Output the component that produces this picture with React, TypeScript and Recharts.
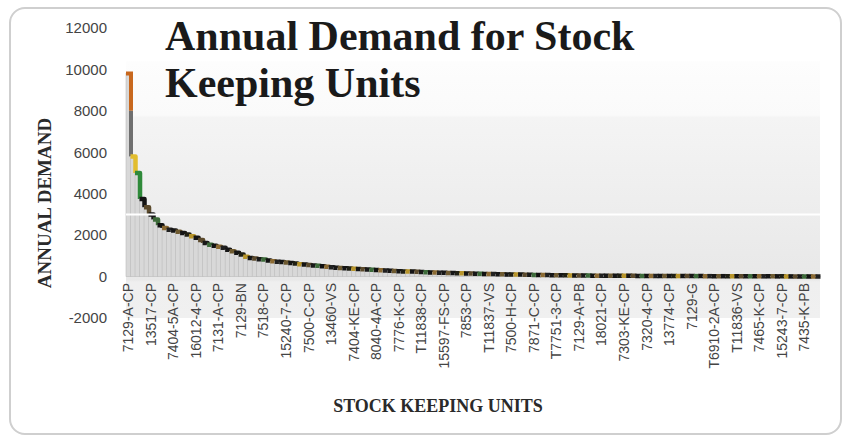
import { BarChart, Bar, XAxis, YAxis, ReferenceArea, ReferenceLine } from 'recharts'

// SKUs sorted by annual demand, one value per bar
const demand = [
  9800, 5800, 5000, 3750, 3350, 3000, 2750, 2480, 2350, 2260,
  2220, 2160, 2100, 2030, 1950, 1870, 1760, 1620, 1540, 1490,
  1440, 1390, 1300, 1220, 1150, 1060, 960, 900, 870, 840,
  820, 780, 740, 720, 700, 680, 660, 630, 600, 580,
  560, 540, 520, 500, 470, 450, 430, 410, 400, 390,
  375, 360, 350, 340, 330, 320, 300, 290, 280, 270,
  260, 250, 245, 240, 230, 220, 210, 200, 195, 190,
  180, 175, 170, 160, 155, 150, 145, 140, 135, 130,
  125, 120, 115, 110, 105, 100, 98, 95, 90, 85,
  80, 78, 75, 70, 65, 62, 60, 58, 55, 52,
  50, 48, 46, 45, 44, 42, 40, 40, 38, 37,
  36, 35, 34, 33, 32, 31, 30, 30, 29, 28,
  27, 26, 25, 25, 24, 23, 22, 22, 21, 20,
  20, 19, 18, 18, 17, 16, 16, 15, 14, 14,
  13, 12, 12, 11, 10, 10, 9, 8, 8, 7,
  6, 5, 4, 3,
]

// every fifth SKU gets a label on the axis
const skuTickLabels = [
  '7129-A-CP', '13517-CP', '7404-5A-CP', '16012-4-CP', '7131-A-CP', '7129-BN',
  '7518-CP', '15240-7-CP', '7500-C-CP', '13460-VS', '7404-KE-CP', '8040-4A-CP',
  '7776-K-CP', 'T11838-CP', '15597-FS-CP', '7853-CP', 'T11837-VS', '7500-H-CP',
  '7871-C-CP', 'T7751-3-CP', '7129-A-PB', '18021-CP', '7303-KE-CP', '7320-4-CP',
  '13774-CP', '7129-G', 'T6910-2A-CP', 'T11836-VS', '7465-K-CP', '15243-7-CP',
  '7435-K-PB',
]

const yTicks = [-2000, 0, 2000, 4000, 6000, 8000, 10000, 12000]

const data = demand.map((v, i) => ({
  sku: i % 5 === 0 ? skuTickLabels[i / 5] : `SKU-${i + 1}`,
  demand: v,
}))

const topColors = ['#151515', '#1f1f14', '#b8952a', '#141414', '#5b4a2c', '#181818', '#3d6b3a', '#111', '#8c6b33', '#202020', '#161616', '#6e5a30']

const DemandBar = (props: any) => {
  const { x, y, width, height, index } = props
  const value = demand[index]
  const next = index + 1 < demand.length ? demand[index + 1] : value
  const yNext = y + height * (1 - next / value)
  let edge: any
  if (index === 0) {
    const mid = y + (yNext - y) * 0.45
    edge = (
      <>
        <path d={`M${x},${y} H${x + width} V${mid}`} stroke="#c8681e" strokeWidth={4} fill="none" />
        <path d={`M${x + width},${mid} V${yNext}`} stroke="#6f6f6f" strokeWidth={4} fill="none" />
      </>
    )
  } else {
    const color = index === 1 ? '#e2bd2e' : index === 2 ? '#2f8a3a' : topColors[index % topColors.length]
    edge = <path d={`M${x},${y} H${x + width} L${x + width},${yNext}`} stroke={color} strokeWidth={4.5} fill="none" strokeLinejoin="round" />
  }
  return (
    <g>
      <rect x={x} y={y} width={width} height={height} fill="#d8d8d8" stroke="#bcbcbc" strokeWidth={0.6} />
      {edge}
    </g>
  )
}

const SkuTick = (props: any) => {
  const { x, y, payload } = props
  const ty = y - 35
  return (
    <text
      x={x}
      y={ty}
      dy={5}
      transform={`rotate(-90, ${x}, ${ty})`}
      textAnchor="end"
      fontFamily="Liberation Sans, Arial, sans-serif"
      fontSize={14}
      fill="#444"
    >
      {payload.value}
    </text>
  )
}

export default function App() {
  return (
    <div style={{ position: 'absolute', left: 0, top: 0, width: 849, height: 442, background: '#fff', overflow: 'hidden' }}>
      <div
        style={{
          position: 'absolute',
          left: 9,
          top: 7,
          width: 829,
          height: 424,
          border: '2px solid #cfcfcf',
          borderRadius: 16,
        }}
      />
      <BarChart
        width={849}
        height={442}
        data={data}
        barCategoryGap={0}
        margin={{ top: 28, right: 29, bottom: 34, left: 0 }}
        style={{ position: 'absolute', left: 0, top: 0 }}
      >
        <defs>
          <linearGradient id="plotBg" x1="0" y1="0" x2="0" y2="1">
            <stop offset="0%" stopColor="#fdfdfd" />
            <stop offset="21%" stopColor="#fafafa" />
            <stop offset="22%" stopColor="#f4f4f4" />
            <stop offset="85%" stopColor="#e8e8e8" />
            <stop offset="86%" stopColor="#efefef" />
            <stop offset="100%" stopColor="#f0f0f0" />
          </linearGradient>
        </defs>
        <ReferenceArea y1={-2000} y2={10400} fill="url(#plotBg)" fillOpacity={1} stroke="none" ifOverflow="extendDomain" />
        <ReferenceLine y={3000} stroke="#ffffff" strokeWidth={2} />
        <XAxis
          dataKey="sku"
          interval={4}
          height={90}
          axisLine={false}
          tickLine={false}
          tickSize={0}
          tickMargin={0}
          tick={<SkuTick />}
        />
        <YAxis
          width={126}
          domain={[-2000, 12000]}
          ticks={yTicks}
          axisLine={false}
          tickLine={false}
          tickMargin={13}
          tick={{ fill: '#444', fontSize: 15, fontFamily: 'Liberation Sans, Arial, sans-serif' }}
        />
        <Bar dataKey="demand" isAnimationActive={false} shape={<DemandBar />} />
      </BarChart>
      <div
        style={{
          position: 'absolute',
          left: 165,
          top: 13,
          fontFamily: '"Liberation Serif", "Times New Roman", serif',
          fontWeight: 'bold',
          fontSize: 42,
          lineHeight: '47px',
          color: '#1a1a1a',
        }}
      >
        Annual Demand for Stock
        <br />
        Keeping Units
      </div>
      <div
        style={{
          position: 'absolute',
          left: 238,
          width: 400,
          top: 396,
          textAlign: 'center',
          fontFamily: '"Liberation Serif", "Times New Roman", serif',
          fontWeight: 'bold',
          fontSize: 18,
          color: '#2a2a2a',
        }}
      >
        STOCK KEEPING UNITS
      </div>
      <div
        style={{
          position: 'absolute',
          left: 45 - 100,
          top: 203 - 12,
          width: 200,
          height: 24,
          lineHeight: '24px',
          textAlign: 'center',
          transform: 'rotate(-90deg)',
          fontFamily: '"Liberation Serif", "Times New Roman", serif',
          fontWeight: 'bold',
          fontSize: 19,
          color: '#2a2a2a',
        }}
      >
        ANNUAL DEMAND
      </div>
    </div>
  )
}
